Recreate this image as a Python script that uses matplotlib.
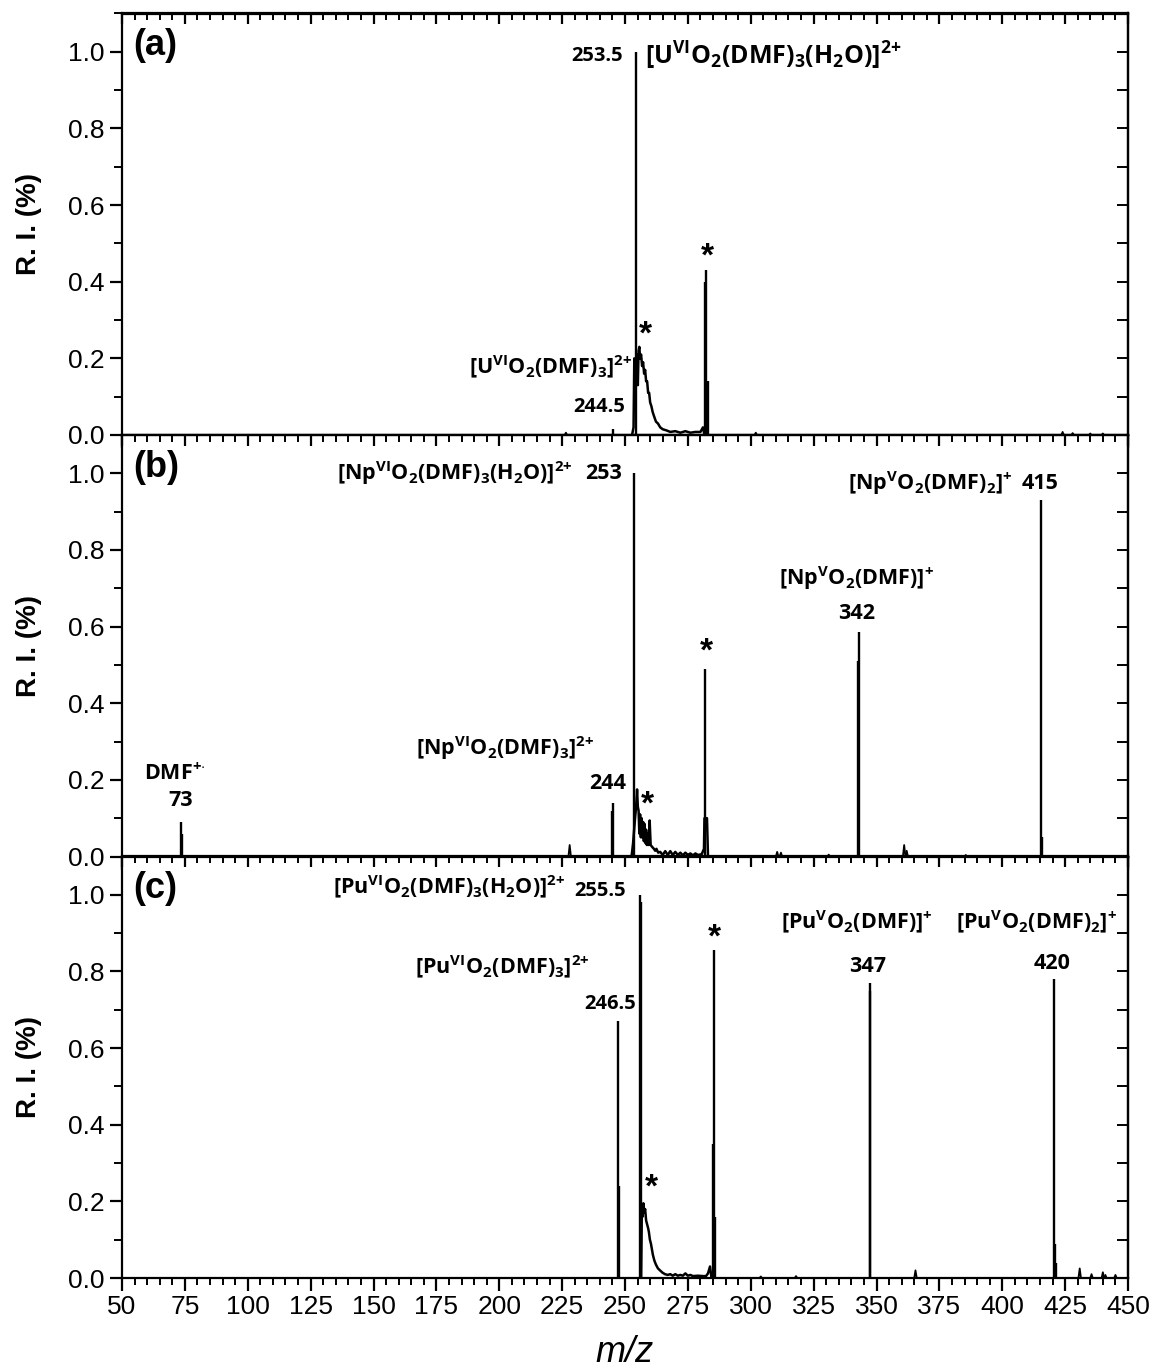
import matplotlib
matplotlib.use("Agg")
import matplotlib.pyplot as plt
from matplotlib.ticker import MultipleLocator

plt.rcParams['mathtext.fontset'] = 'custom'
plt.rcParams['mathtext.rm'] = 'Open Sans:bold'
plt.rcParams['mathtext.bf'] = 'Open Sans:bold'
plt.rcParams['mathtext.default'] = 'bf'

# --- sharp peaks (m/z, relative intensity) ---
peaks_a_mz = [245.2, 254.4, 281.8, 282.3, 283.0]
peaks_a_ri = [0.015, 1.0, 0.40, 0.43, 0.14]

peaks_b_mz = [73.3, 73.8, 245.0, 245.3, 253.4, 282.0, 342.6, 342.9, 415.6, 416.0]
peaks_b_ri = [0.09, 0.06, 0.12, 0.14, 1.0, 0.49, 0.51, 0.587, 0.93, 0.05]

peaks_c_mz = [247.2, 247.5, 256.0, 256.3, 285.0, 285.3, 285.6, 347.3, 347.6, 420.5, 420.8, 421.2]
peaks_c_ri = [0.67, 0.24, 1.0, 0.98, 0.35, 0.855, 0.16, 0.77, 0.75, 0.78, 0.09, 0.04]

# --- continuum traces (humps next to the main peaks) ---
hump_a_mz = [252.8, 253.4, 253.7, 254.0, 254.8, 255.1, 255.4, 255.7, 256.0, 256.4, 256.8, 257.2,
             257.6, 258.0, 258.4, 258.8, 259.2, 259.6, 260.0, 260.5, 261.0, 261.5, 262.3, 263.1,
             264.0, 265.0, 266.5, 268, 270, 272, 274, 276, 278, 280, 281, 281.6]
hump_a_ri = [0, 0.02, 0.2, 0.12, 0.21, 0.13, 0.22, 0.23, 0.20, 0.21, 0.18, 0.19,
             0.16, 0.17, 0.14, 0.14, 0.11, 0.11, 0.085, 0.075, 0.06, 0.05, 0.035, 0.03,
             0.02, 0.015, 0.012, 0.008, 0.01, 0.006, 0.01, 0.006, 0.008, 0.008, 0.02, 0]

hump_b_mz = [252.6, 253.2, 254.0, 254.4, 254.8, 255.1, 255.4, 255.7, 256.0, 256.3, 256.6, 256.9,
             257.2, 257.5, 257.8, 258.1, 258.4, 258.7, 259.0, 259.4, 259.8, 260.2, 260.8, 261.5,
             262.0, 262.5, 263.2, 264, 265, 266, 267, 268, 269, 270, 271, 272, 273, 274, 275,
             276, 277, 278, 279, 280.5, 281.4, 281.6, 282.6, 283.0]
hump_b_ri = [0, 0.034, 0.10, 0.128, 0.175, 0.13, 0.12, 0.06, 0.11, 0.05, 0.10, 0.05,
             0.09, 0.04, 0.085, 0.035, 0.07, 0.03, 0.06, 0.03, 0.094, 0.03, 0.025, 0.02,
             0.015, 0.02, 0.01, 0.012, 0.004, 0.014, 0.004, 0.014, 0.004, 0.012, 0.004, 0.01,
             0.003, 0.01, 0.004, 0.008, 0.003, 0.008, 0.004, 0.006, 0.02, 0.10, 0.10, 0]

hump_c_mz = [256.4, 256.7, 257.0, 257.3, 257.6, 258.0, 258.4, 258.8, 259.2, 259.5, 259.9, 260.3,
             260.7, 261.1, 261.7, 262.3, 263.1, 263.9, 264.9, 265.9, 267, 268, 269, 270, 271,
             272, 273, 274, 275, 276, 277, 279, 281, 282.2, 283.0, 283.8, 284.4]
hump_c_ri = [0, 0.18, 0.16, 0.195, 0.17, 0.18, 0.15, 0.14, 0.13, 0.12, 0.10, 0.09,
             0.075, 0.06, 0.045, 0.035, 0.025, 0.02, 0.014, 0.01, 0.008, 0.01, 0.006, 0.01, 0.006,
             0.008, 0.006, 0.012, 0.006, 0.008, 0.005, 0.006, 0.005, 0.005, 0.012, 0.03, 0]

# --- small baseline blips (m/z, intensity) ---
blips_a_mz = [226.5, 302, 424, 428, 435, 440]
blips_a_ri = [0.006, 0.006, 0.008, 0.005, 0.004, 0.004]

blips_b_mz = [228, 310.5, 312, 331, 361, 362, 385.5]
blips_b_ri = [0.03, 0.012, 0.01, 0.005, 0.03, 0.015, 0.004]

blips_c_mz = [304, 318, 365.5, 430.8, 435.5, 440, 441, 445]
blips_c_ri = [0.004, 0.005, 0.02, 0.025, 0.01, 0.015, 0.008, 0.008]

panels = [
    ("(a)", peaks_a_mz, peaks_a_ri, hump_a_mz, hump_a_ri, blips_a_mz, blips_a_ri),
    ("(b)", peaks_b_mz, peaks_b_ri, hump_b_mz, hump_b_ri, blips_b_mz, blips_b_ri),
    ("(c)", peaks_c_mz, peaks_c_ri, hump_c_mz, hump_c_ri, blips_c_mz, blips_c_ri),
]

# annotations: (text, mz, ri, ha, size)
notes_a = [
    ("253.5", 249.3, 0.99, "right", 14.5),
    (r"$[U^{VI}O_2(DMF)_3(H_2O)]^{2{+}}$", 258.0, 0.99, "left", 18),
    ("*", 282.6, 0.465, "center", 24),
    ("*", 258.3, 0.26, "center", 24),
    (r"$[U^{VI}O_2(DMF)_3]^{2{+}}$", 252.8, 0.175, "right", 15.5),
    ("244.5", 250.0, 0.073, "right", 14.5),
]
notes_b = [
    (r"$[Np^{VI}O_2(DMF)_3(H_2O)]^{2{+}}$", 229.0, 1.0, "right", 15.5),
    ("253", 241.3, 1.0, "center", 15.5),
    (r"$[Np^{V}O_2(DMF)_2]^{{+}}$", 403.9, 0.974, "right", 15.5),
    ("415", 415.0, 0.974, "center", 15.5),
    (r"$[Np^{V}O_2(DMF)]^{{+}}$", 342.2, 0.726, "center", 15.5),
    ("342", 342.2, 0.634, "center", 15.5),
    ("*", 282.2, 0.533, "center", 24),
    (r"$[Np^{VI}O_2(DMF)_3]^{2{+}}$", 237.7, 0.282, "right", 15.5),
    ("244", 243.2, 0.19, "center", 15.5),
    ("*", 259.1, 0.133, "center", 24),
    (r"DMF$^{{+}{\cdot}}$", 71.1, 0.217, "center", 15.5),
    ("73", 73.5, 0.146, "center", 15.5),
]
notes_c = [
    (r"$[Pu^{VI}O_2(DMF)_3(H_2O)]^{2{+}}$", 226.1, 1.02, "right", 15.5),
    ("255.5", 240.0, 1.01, "center", 14.5),
    (r"$[Pu^{VI}O_2(DMF)_3]^{2{+}}$", 236.1, 0.81, "right", 15.5),
    ("246.5", 244.0, 0.715, "center", 14.5),
    ("*", 260.7, 0.235, "center", 24),
    ("*", 285.4, 0.888, "center", 24),
    (r"$[Pu^{V}O_2(DMF)]^{{+}}$", 342.2, 0.927, "center", 15.5),
    ("347", 346.6, 0.812, "center", 15.5),
    (r"$[Pu^{V}O_2(DMF)_2]^{{+}}$", 413.8, 0.927, "center", 15.5),
    ("420", 419.8, 0.82, "center", 15.5),
]
notes = [notes_a, notes_b, notes_c]

tick_font = ['Liberation Sans Narrow', 'Liberation Sans', 'DejaVu Sans']

fig = plt.figure(figsize=(11.5, 13.71), dpi=100)
left, width = 122 / 1150, 1006 / 1150
h = 421.5 / 1371
bottom0 = 1 - 1278 / 1371

for i, (lab, pmz, pri, hmz, hri, bmz, bri) in enumerate(panels):
    ax = fig.add_axes([left, bottom0 + (2 - i) * h, width, h])
    ax.axhline(0, color='black', lw=1.3)
    ax.plot(hmz, hri, color='black', lw=1.8)
    ax.vlines(pmz, 0, pri, color='black', lw=1.7)
    for x, y in zip(bmz, bri):
        ax.plot([x - 0.5, x, x + 0.5], [0, y, 0], color='black', lw=1.3)
    ax.set_xlim(50, 450)
    ax.set_ylim(0, 1.1)
    for s in ax.spines.values():
        s.set_linewidth(1.6)

    ax.xaxis.set_major_locator(MultipleLocator(25))
    ax.xaxis.set_minor_locator(MultipleLocator(5))
    ax.yaxis.set_major_locator(MultipleLocator(0.2))
    ax.yaxis.set_minor_locator(MultipleLocator(0.1))
    ax.tick_params(axis='x', which='major', direction='out', length=9, width=1.6)
    ax.tick_params(axis='x', which='minor', direction='out', length=5, width=1.4)
    ax.tick_params(axis='y', which='major', direction='out', length=9, width=1.6)
    ax.tick_params(axis='y', which='minor', direction='out', length=6, width=1.4)
    ax.tick_params(labelsize=19)
    ax.set_yticks([0, 0.2, 0.4, 0.6, 0.8, 1.0])
    ax.set_yticklabels(["0.0", "0.2", "0.4", "0.6", "0.8", "1.0"], family=tick_font)
    if i < 2:
        ax.tick_params(axis='x', labelbottom=False)
    else:
        ax.set_xticks(range(50, 451, 25))
        ax.set_xticklabels([str(v) for v in range(50, 451, 25)], family=tick_font)
        ax.set_xlabel("m/z", fontsize=26, style='italic', family='Liberation Sans', labelpad=11)

    sec_top = ax.secondary_xaxis('top')
    sec_top.xaxis.set_major_locator(MultipleLocator(25))
    sec_top.xaxis.set_minor_locator(MultipleLocator(5))
    sec_top.tick_params(which='major', direction='in', length=8, width=1.6, labeltop=False)
    sec_top.tick_params(which='minor', direction='in', length=5, width=1.4)
    sec_top.spines['top'].set_linewidth(1.6)

    sec_r = ax.secondary_yaxis('right')
    sec_r.yaxis.set_major_locator(MultipleLocator(0.1))
    sec_r.yaxis.set_minor_locator(MultipleLocator(0.1))
    sec_r.tick_params(which='both', direction='in', length=8, width=1.4, labelright=False)
    sec_r.spines['right'].set_linewidth(1.6)

    ax.set_ylabel("R. I. (%)", fontsize=20, fontweight='bold', family='Liberation Sans')
    ax.yaxis.set_label_coords(-0.08, 0.5)
    ax.text(54.4, 1.016, lab, fontsize=26, fontweight='bold', family='Liberation Sans',
            ha='left', va='center')

    for txt, x, y, ha, size in notes[i]:
        fam = 'Liberation Sans' if txt == "*" else 'Open Sans'
        ax.text(x, y, txt, fontsize=size, family=fam, fontweight='bold',
                ha=ha, va='center')

fig.savefig("out.png", dpi=100)
